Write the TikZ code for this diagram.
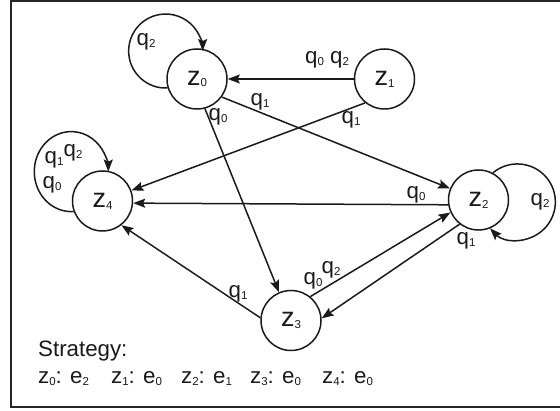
\documentclass[tikz,border=0pt]{standalone}
\usepackage{fontspec}
\setmainfont{Liberation Sans}
\usetikzlibrary{arrows.meta}
\newcommand\sbs[1]{\raisebox{-1.8pt}{\fontsize{11.5}{11.5}\selectfont #1}}
\definecolor{ink}{HTML}{1A1A1A}
\begin{document}
\begin{tikzpicture}[x=1pt,y=1pt,
  st/.style={circle, draw=ink, text=ink, line width=1.5pt, minimum size=60pt, inner sep=0pt, font=\fontsize{27}{27}\selectfont},
  lbl/.style={inner sep=0pt, text=ink, font=\fontsize{22.3}{22.3}\selectfont},
  edge/.style={draw=ink, line width=1.5pt, -{Stealth[length=12pt,width=9pt,inset=2pt]}},
]
\useasboundingbox (0,0) rectangle (560,411);
\begin{scope}
\clip (0,0) rectangle (560,411);
\draw[line width=2.4pt, color=black!85] (11,4) rectangle (620,410);
\end{scope}

% states
\node[st] (z0) at (197,332) {z\sbs{0}};
\node[st] (z1) at (384.5,332) {z\sbs{1}};
\node[st] (z2) at (478.5,211) {z\sbs{2}};
\node[st] (z4) at (102.5,210) {z\sbs{4}};
\node[st] (z3) at (291,90.5) {z\sbs{3}};

% edges
\draw[edge] (z1) -- (z0);
\draw[edge] (z1.231) -- (z4.20);
\draw[edge] (z0.324) -- (z2.158);
\draw[edge] (z0.285) -- (z3.113);
\draw[edge] (z2.189) -- (z4.-4);
\draw[edge] (z3.175) -- (z4.308);
\draw[edge] (z3.51) -- (z2.204);
\draw[edge] (z2.232) -- (z3.4);

% self loops
\draw[edge] (z0.197) arc[start angle=273, end angle=0, radius=37];
\draw[edge] (z4.200) arc[start angle=273.6, end angle=0, x radius=37, y radius=40];
\draw[edge] (z2.62) arc[start angle=130, end angle=-136, radius=38];

% labels
\node[lbl] (l10) at (327,351) {q\sbs{0} q\sbs{2}};
\node[lbl] (l14) at (351,291) {q\sbs{1}};
\node[lbl] (l02) at (260,309) {q\sbs{1}};
\node[lbl] (l03) at (218,294) {q\sbs{0}};
\node[lbl] (l00) at (146,369) {q\sbs{2}};
\node[lbl] (l44a) at (54,251) {q\sbs{1}};
\node[lbl] (l44b) at (73,258) {q\sbs{2}};
\node[lbl] (l44c) at (52,226) {q\sbs{0}};
\node[lbl] (l24) at (416,216) {q\sbs{0}};
\node[lbl] (l22) at (540,209) {q\sbs{2}};
\node[lbl] (l23) at (466,170) {q\sbs{1}};
\node[lbl] (l32a) at (313,130) {q\sbs{0}};
\node[lbl] (l32b) at (331,141) {q\sbs{2}};
\node[lbl] (l34) at (238,117) {q\sbs{1}};

% strategy
\node[lbl, anchor=base west] (sh) at (38,54) {Strategy:};
\node[lbl, anchor=base west] (s0) at (38,27) {z\sbs{0}: e\sbs{2}};
\node[lbl, anchor=base west] (s1) at (111,27) {z\sbs{1}: e\sbs{0}};
\node[lbl, anchor=base west] (s2) at (181,27) {z\sbs{2}: e\sbs{1}};
\node[lbl, anchor=base west] (s3) at (250,27) {z\sbs{3}: e\sbs{0}};
\node[lbl, anchor=base west] (s4) at (322,27) {z\sbs{4}: e\sbs{0}};
\end{tikzpicture}
\end{document}
